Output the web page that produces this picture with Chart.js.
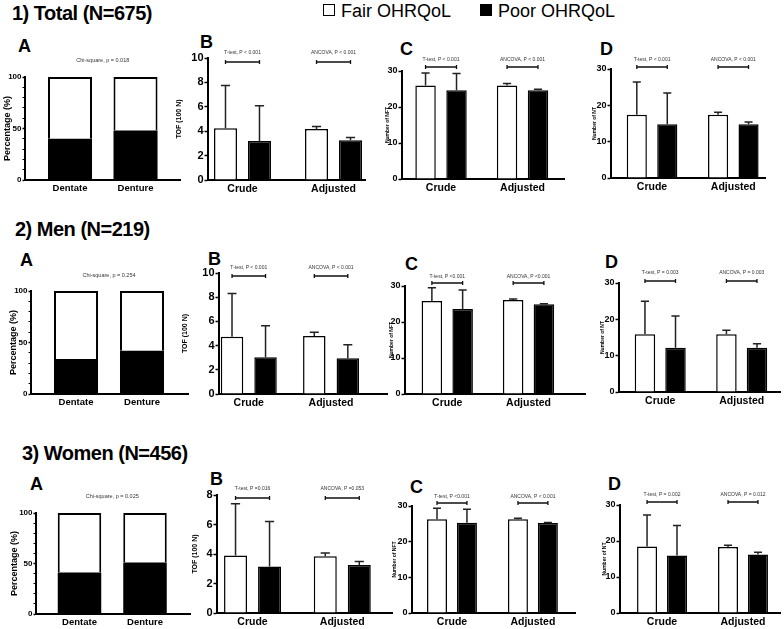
<!DOCTYPE html>
<html>
<head>
<meta charset="utf-8">
<script src="https://cdn.jsdelivr.net/npm/chart.js@4.4.1/dist/chart.umd.min.js"></script>
<style>
  body { margin: 0; background: #fff; width: 784px; height: 629px; position: relative; overflow: hidden;
         font-family: 'Liberation Sans', Arial, sans-serif; color: #000; }
  .row-title { position: absolute; font-weight: bold; font-size: 20px; letter-spacing: -0.5px; line-height: 1; white-space: nowrap; }
  .letter { position: absolute; font-weight: bold; font-size: 18px; line-height: 1; }
  .leg-box { position: absolute; width: 10px; height: 10px; border: 1.5px solid #000; }
  .leg-text { position: absolute; font-size: 18px; line-height: 1; white-space: nowrap; }
  canvas { position: absolute; }
</style>
</head>
<body>
<div class="row-title" style="left:12px;top:3px">1) Total (N=675)</div>
<div class="row-title" style="left:15px;top:219px">2) Men (N=219)</div>
<div class="row-title" style="left:22px;top:443px">3) Women (N=456)</div>

<div class="leg-box" style="left:323px;top:4px;background:#fff"></div>
<div class="leg-text" style="left:341px;top:2px">Fair OHRQoL</div>
<div class="leg-box" style="left:480px;top:4px;background:#000"></div>
<div class="leg-text" style="left:498px;top:2px">Poor OHRQoL</div>

<div class="letter" style="left:18px;top:37px">A</div>
<div class="letter" style="left:200px;top:33px">B</div>
<div class="letter" style="left:400px;top:40px">C</div>
<div class="letter" style="left:600px;top:40px">D</div>
<div class="letter" style="left:20px;top:251px">A</div>
<div class="letter" style="left:208px;top:250px">B</div>
<div class="letter" style="left:405px;top:255px">C</div>
<div class="letter" style="left:605px;top:253px">D</div>
<div class="letter" style="left:30px;top:475px">A</div>
<div class="letter" style="left:210px;top:470px">B</div>
<div class="letter" style="left:410px;top:478px">C</div>
<div class="letter" style="left:608px;top:475px">D</div>

<script>
// ---- data ----
const dentition = ['Dentate', 'Denture'];
const models = ['Crude', 'Adjusted'];

// A: percentage with poor / fair OHRQoL
const totalPoorPct = [40, 48];
const totalFairPct = [60, 52];
const menPoorPct = [34, 42];
const menFairPct = [66, 58];
const womenPoorPct = [41, 51];
const womenFairPct = [59, 49];

// B: TOF (100 N), mean and upper error
const totalTofFair = [4.25, 4.19];
const totalTofFairErr = [3.5, 0.19];
const totalTofPoor = [3.2, 3.26];
const totalTofPoorErr = [2.88, 0.22];
const menTofFair = [4.74, 4.8];
const menTofFairErr = [3.56, 0.3];
const menTofPoor = [3.04, 2.96];
const menTofPoorErr = [2.6, 1.1];
const womenTofFair = [3.9, 3.85];
const womenTofFairErr = [3.5, 0.22];
const womenTofPoor = [3.15, 3.25];
const womenTofPoorErr = [3.05, 0.25];

// C: number of NFT
const totalNftFair = [26.0, 26.0];
const totalNftFairErr = [3.45, 0.5];
const totalNftPoor = [24.65, 24.65];
const totalNftPoorErr = [4.65, 0.25];
const menNftFair = [25.8, 26.1];
const menNftFairErr = [3.7, 0.3];
const menNftPoor = [23.6, 24.9];
const menNftPoorErr = [5.3, 0.2];
const womenNftFair = [26.3, 26.3];
const womenNftFairErr = [3.05, 0.3];
const womenNftPoor = [25.3, 25.2];
const womenNftPoorErr = [3.8, 0.2];

// D: number of NT
const totalNtFair = [17.4, 17.4];
const totalNtFairErr = [9.0, 0.7];
const totalNtPoor = [14.8, 14.8];
const totalNtPoorErr = [8.6, 0.6];
const menNtFair = [15.9, 15.9];
const menNtFairErr = [9.1, 1.1];
const menNtPoor = [12.2, 12.2];
const menNtPoorErr = [8.7, 1.1];
const womenNtFair = [18.5, 18.3];
const womenNtFairErr = [8.7, 0.5];
const womenNtPoor = [16.0, 16.25];
const womenNtPoorErr = [8.3, 0.65];

const FONT = "'Liberation Sans', Arial, sans-serif";
Chart.defaults.font.family = FONT;
Chart.defaults.color = '#000';

// error bars, significance brackets and p-value notes
const annotate = {
  id: 'annotate',
  afterDatasetsDraw(chart, args, opts) {
    const { ctx, chartArea, scales } = chart;
    ctx.save();
    chart.data.datasets.forEach((ds, di) => {
      if (!ds.errorUp) return;
      chart.getDatasetMeta(di).data.forEach((bar, i) => {
        const top = scales.y.getPixelForValue(ds.data[i].y + ds.errorUp[i]);
        const cap = bar.width * 0.2;
        ctx.strokeStyle = '#222';
        ctx.lineWidth = 1.5;
        ctx.beginPath();
        ctx.moveTo(bar.x, bar.y);
        ctx.lineTo(bar.x, top);
        ctx.moveTo(bar.x - cap, top);
        ctx.lineTo(bar.x + cap, top);
        ctx.stroke();
      });
    });
    ctx.font = '5px ' + FONT;
    ctx.fillStyle = '#333';
    ctx.textAlign = 'center';
    ctx.textBaseline = 'middle';
    if (opts.tests) {
      const m0 = chart.getDatasetMeta(0), m1 = chart.getDatasetMeta(1);
      opts.tests.forEach((txt, i) => {
        const x0 = m0.data[i].x, x1 = m1.data[i].x;
        const y = chartArea.top + opts.barDy;
        ctx.strokeStyle = '#111';
        ctx.lineWidth = 1.3;
        ctx.beginPath();
        ctx.moveTo(x0, y); ctx.lineTo(x1, y);
        ctx.moveTo(x0, y - 2); ctx.lineTo(x0, y + 2);
        ctx.moveTo(x1, y - 2); ctx.lineTo(x1, y + 2);
        ctx.stroke();
        ctx.fillText(txt, (x0 + x1) / 2, chartArea.top + opts.textDy);
      });
    }
    if (opts.note) {
      const m = chart.getDatasetMeta(0);
      ctx.font = '5.5px ' + FONT;
      ctx.fillText(opts.note, (m.data[0].x + m.data[1].x) / 2, chartArea.top + opts.textDy);
    }
    ctx.restore();
  }
};

const pts = arr => arr.map((y, i) => ({ x: i, y }));

function stackedSets(poor, fair) {
  return [
    { label: 'Poor OHRQoL', data: pts(poor), backgroundColor: '#000', borderColor: '#000', borderWidth: 0 },
    { label: 'Fair OHRQoL', data: pts(fair), backgroundColor: '#fff', borderColor: '#000', borderWidth: 2, borderSkipped: 'bottom' }
  ];
}

function groupedSets(fair, fairErr, poor, poorErr) {
  return [
    { label: 'Fair OHRQoL', data: pts(fair), errorUp: fairErr, backgroundColor: '#fff', borderColor: '#000', borderWidth: 1.5 },
    { label: 'Poor OHRQoL', data: pts(poor), errorUp: poorErr, backgroundColor: '#000', borderColor: '#000', borderWidth: 1.5 }
  ];
}

function panel(p) {
  const [bx, by, bw, bh] = p.box;
  const [l, t, r, b] = p.area;
  const c = document.createElement('canvas');
  c.style.left = bx + 'px';
  c.style.top = by + 'px';
  c.width = bw;
  c.height = bh;
  document.body.appendChild(c);
  const isA = p.kind === 'A';
  new Chart(c, {
    type: 'bar',
    data: { datasets: p.datasets },
    options: {
      responsive: false,
      animation: false,
      devicePixelRatio: 1,
      layout: { padding: { left: 0, top: t - by, right: bx + bw - r, bottom: 0 } },
      datasets: { bar: { categoryPercentage: p.cp, barPercentage: p.bp } },
      plugins: { legend: { display: false }, tooltip: { enabled: false }, annotate: p.annot },
      scales: {
        x: {
          type: 'linear', min: p.xr[0], max: p.xr[1], stacked: isA, offset: false,
          afterBuildTicks: s => { s.ticks = p.labels.map((_, i) => ({ value: i })); },
          afterFit: s => { s.height = by + bh - b; },
          grid: { display: true, drawOnChartArea: false, drawTicks: false },
          border: { color: '#000', width: 2 },
          ticks: { callback: v => p.labels[v], padding: 3, autoSkip: false, maxRotation: 0,
                   font: { size: isA ? 9.5 : 10.5, weight: 'bold' } }
        },
        y: {
          min: 0, max: p.yMax, stacked: isA,
          afterBuildTicks: s => {
            const ticks = [];
            for (let v = 0; v <= p.yMax; v += p.step) ticks.push({ value: v });
            s.ticks = ticks;
          },
          afterFit: s => { s.width = l - bx; },
          ticks: { padding: 1, autoSkip: false,
                   callback: v => (isA ? (v % 50 === 0 ? String(v) : '') : String(v)),
                   font: { size: p.tickSize, weight: 'bold' } },
          grid: { drawOnChartArea: false, tickLength: isA ? 2.5 : 3.5, tickColor: '#000',
                  tickWidth: ctx => (isA && ctx.tick && ctx.tick.value % 50 !== 0 ? 1 : 1.5) },
          border: { color: '#000', width: 2 },
          title: { display: true, text: p.yTitle, padding: { top: p.tp, bottom: 0 },
                   font: { size: p.titleSize, weight: 'bold' } }
        }
      }
    },
    plugins: [annotate]
  });
}

const A = { kind: 'A', labels: dentition, yMax: 100, step: 10, cp: 1, tickSize: 8, yTitle: 'Percentage (%)', titleSize: 9 };
const B = { kind: 'B', labels: models, tickSize: 11, yTitle: 'TOF (100 N)', titleSize: 7 };
const C = { kind: 'C', labels: models, yMax: 30, step: 10, tickSize: 9, yTitle: 'Number of NFT', titleSize: 5 };
const D = { kind: 'D', labels: models, yMax: 30, step: 10, tickSize: 9, yTitle: 'Number of NT', titleSize: 5 };

const panels = [
  // row 1: total
  { ...A, box: [0, 50, 190, 145], area: [25, 77, 180, 180], xr: [-0.687, 1.679], bp: 0.672, tp: 2.6,
    datasets: stackedSets(totalPoorPct, totalFairPct), annot: { note: 'Chi-square, p = 0.018', textDy: -17 } },
  { ...B, yMax: 10, step: 2, box: [172, 45, 200, 150], area: [208, 58, 365, 180], xr: [-0.379, 1.346], cp: 0.747, bp: 0.676, tp: 2.8,
    datasets: groupedSets(totalTofFair, totalTofFairErr, totalTofPoor, totalTofPoorErr),
    annot: { tests: ['T-test, P < 0.001', 'ANCOVA, P < 0.001'], barDy: 4, textDy: -5 } },
  { ...C, box: [380, 50, 190, 145], area: [402, 71, 564, 179], xr: [-0.479, 1.509], cp: 0.76, bp: 0.66, tp: 5,
    datasets: groupedSets(totalNftFair, totalNftFairErr, totalNftPoor, totalNftPoorErr),
    annot: { tests: ['T-test, P < 0.001', 'ANCOVA, P < 0.001'], barDy: -4, textDy: -11 } },
  { ...D, box: [585, 50, 199, 145], area: [611, 69, 765, 178], xr: [-0.505, 1.39], cp: 0.75, bp: 0.66, tp: 6.5,
    datasets: groupedSets(totalNtFair, totalNtFairErr, totalNtPoor, totalNtPoorErr),
    annot: { tests: ['T-test, P < 0.001', 'ANCOVA, P < 0.001'], barDy: -2, textDy: -9 } },
  // row 2: men
  { ...A, box: [0, 265, 195, 145], area: [31, 291, 188, 394], xr: [-0.682, 1.697], bp: 0.667, tp: 8.6,
    datasets: stackedSets(menPoorPct, menFairPct), annot: { note: 'Chi-square, p = 0.254', textDy: -16 } },
  { ...B, yMax: 10, step: 2, box: [175, 258, 215, 152], area: [219, 273, 387, 394], xr: [-0.362, 1.68], cp: 0.815, bp: 0.67, tp: 5.8,
    datasets: groupedSets(menTofFair, menTofFairErr, menTofPoor, menTofPoorErr),
    annot: { tests: ['T-test, P < 0.001', 'ANCOVA, P < 0.001'], barDy: 3, textDy: -5 } },
  { ...C, box: [383, 265, 205, 145], area: [405, 286, 585, 394], xr: [-0.52, 1.695], cp: 0.757, bp: 0.667, tp: 5.5,
    datasets: groupedSets(menNftFair, menNftFairErr, menNftPoor, menNftPoorErr),
    annot: { tests: ['T-test, P <0.001', 'ANCOVA, P <0.001'], barDy: -3, textDy: -9 } },
  { ...D, box: [592, 262, 192, 146], area: [619, 283, 780, 392], xr: [-0.506, 1.47], cp: 0.75, bp: 0.67, tp: 7.5,
    datasets: groupedSets(menNtFair, menNtFairErr, menNtPoor, menNtPoorErr),
    annot: { tests: ['T-test, P = 0.003', 'ANCOVA, P = 0.003'], barDy: -2, textDy: -10 } },
  // row 3: women
  { ...A, box: [0, 486, 195, 143], area: [36, 513, 190, 614], xr: [-0.664, 1.687], bp: 0.664, tp: 9.6,
    datasets: stackedSets(womenPoorPct, womenFairPct), annot: { note: 'Chi-square, p = 0.025', textDy: -17 } },
  { ...B, yMax: 8, step: 2, box: [180, 480, 215, 149], area: [217, 495, 392, 613], xr: [-0.396, 1.554], cp: 0.758, bp: 0.676, tp: 11.3,
    datasets: groupedSets(womenTofFair, womenTofFairErr, womenTofPoor, womenTofPoorErr),
    annot: { tests: ['T-test, P =0.016', 'ANCOVA, P =0.053'], barDy: 3, textDy: -6 } },
  { ...C, box: [385, 485, 195, 144], area: [412, 506, 575, 613], xr: [-0.494, 1.52], cp: 0.74, bp: 0.667, tp: 7,
    datasets: groupedSets(womenNftFair, womenNftFairErr, womenNftPoor, womenNftPoorErr),
    annot: { tests: ['T-test, P <0.001', 'ANCOVA, P < 0.001'], barDy: -3, textDy: -9 } },
  { ...D, box: [595, 485, 189, 144], area: [620, 505, 780, 613], xr: [-0.519, 1.457], cp: 0.74, bp: 0.667, tp: 6.5,
    datasets: groupedSets(womenNtFair, womenNtFairErr, womenNtPoor, womenNtPoorErr),
    annot: { tests: ['T-test, P = 0.002', 'ANCOVA, P = 0.012'], barDy: -3, textDy: -10 } }
];

panels.forEach(panel);
</script>
</body>
</html>
